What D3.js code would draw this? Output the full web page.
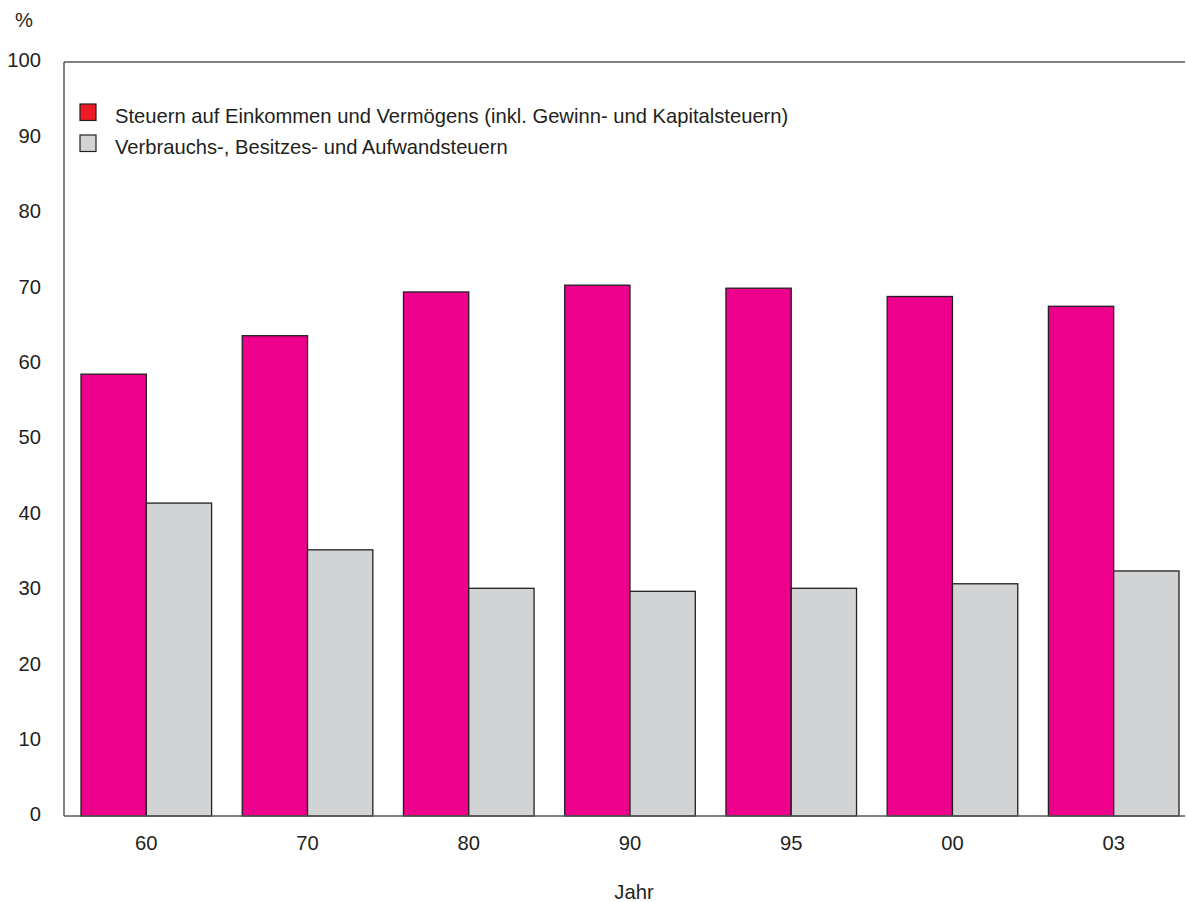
<!DOCTYPE html>
<html><head><meta charset="utf-8">
<script src="https://cdn.jsdelivr.net/npm/d3@7"></script>
<style>body{margin:0;background:#fff}svg{display:block}text{font-family:"Liberation Sans",Arial,sans-serif;fill:#231f20}</style>
</head><body>
<script>
const categories = ["60","70","80","90","95","00","03"];
const einkommen = [58.6, 63.7, 69.5, 70.4, 70.0, 68.9, 67.6];
const verbrauch = [41.5, 35.3, 30.2, 29.8, 30.2, 30.8, 32.5];
const yTicks = [0,10,20,30,40,50,60,70,80,90,100];
const seriesNames = ["Steuern auf Einkommen und Vermögens (inkl. Gewinn- und Kapitalsteuern)", "Verbrauchs-, Besitzes- und Aufwandsteuern"];

const W = 1186, H = 902;
const FS = 20.2;
const svg = d3.select("body").append("svg").attr("width", W).attr("height", H);
const pL = 64, pR = 1185, pT = 62, pB = 816;
const y = d3.scaleLinear().domain([0,100]).range([pB, pT]);
const x = d3.scaleBand().domain(categories).range([81, 1179]).paddingInner(0.19).paddingOuter(0);
const xs = d3.scaleBand().domain([0,1]).range([0, x.bandwidth()]);

// axis lines
svg.append("line").attr("x1", pL).attr("x2", pR).attr("y1", pT).attr("y2", pT).attr("stroke","#58585a").attr("stroke-width",1.5);
svg.append("line").attr("x1", pL).attr("x2", pL).attr("y1", pT).attr("y2", pB).attr("stroke","#58585a").attr("stroke-width",1.5);

const data = categories.map((c,i)=>({c, vals:[einkommen[i], verbrauch[i]]}));
const fills = ["#ec008c", "#d1d3d4"];
const g = svg.append("g");
data.forEach(d => {
  d.vals.forEach((v, k) => {
    g.append("rect")
      .attr("x", x(d.c) + xs(k))
      .attr("y", y(v))
      .attr("width", xs.bandwidth())
      .attr("height", y(0) - y(v))
      .attr("fill", fills[k])
      .attr("stroke", "#231f20")
      .attr("stroke-width", 1.3);
  });
});
svg.append("line").attr("x1", pL).attr("x2", pR).attr("y1", pB).attr("y2", pB).attr("stroke","#58585a").attr("stroke-width",1.5);

// y axis labels
const yAxis = d3.axisLeft(y).tickValues(yTicks).tickSize(0).tickPadding(0);
const ya = svg.append("g").attr("transform", `translate(41,0)`).call(yAxis);
ya.select(".domain").remove();
ya.selectAll("text").attr("font-size", FS).attr("fill","#231f20").attr("font-family","Liberation Sans, Arial, sans-serif").attr("dy","0.24em");

// x axis labels
const xAxis = d3.axisBottom(x).tickSize(0).tickPadding(0);
const xa = svg.append("g").attr("transform", `translate(0,${pB+20})`).call(xAxis);
xa.select(".domain").remove();
xa.selectAll("text").attr("font-size", FS).attr("fill","#231f20").attr("font-family","Liberation Sans, Arial, sans-serif").attr("dy","0.71em");

svg.append("text").attr("x", 15).attr("y", 27).attr("font-size", FS).text("%");
svg.append("text").attr("x", 634).attr("y", 899).attr("text-anchor","middle").attr("font-size", FS).text("Jahr");

// legend
const legFill = ["#ed1c24", "#d1d3d4"];
seriesNames.forEach((n, i) => {
  const ly = 104 + i*31;
  svg.append("rect").attr("x", 80).attr("y", ly).attr("width", 16).attr("height", 16.5)
    .attr("fill", legFill[i]).attr("stroke", "#231f20").attr("stroke-width", 1.2);
  svg.append("text").attr("x", 115).attr("y", ly + 19).attr("font-size", FS).text(n);
});
</script>
</body></html>
